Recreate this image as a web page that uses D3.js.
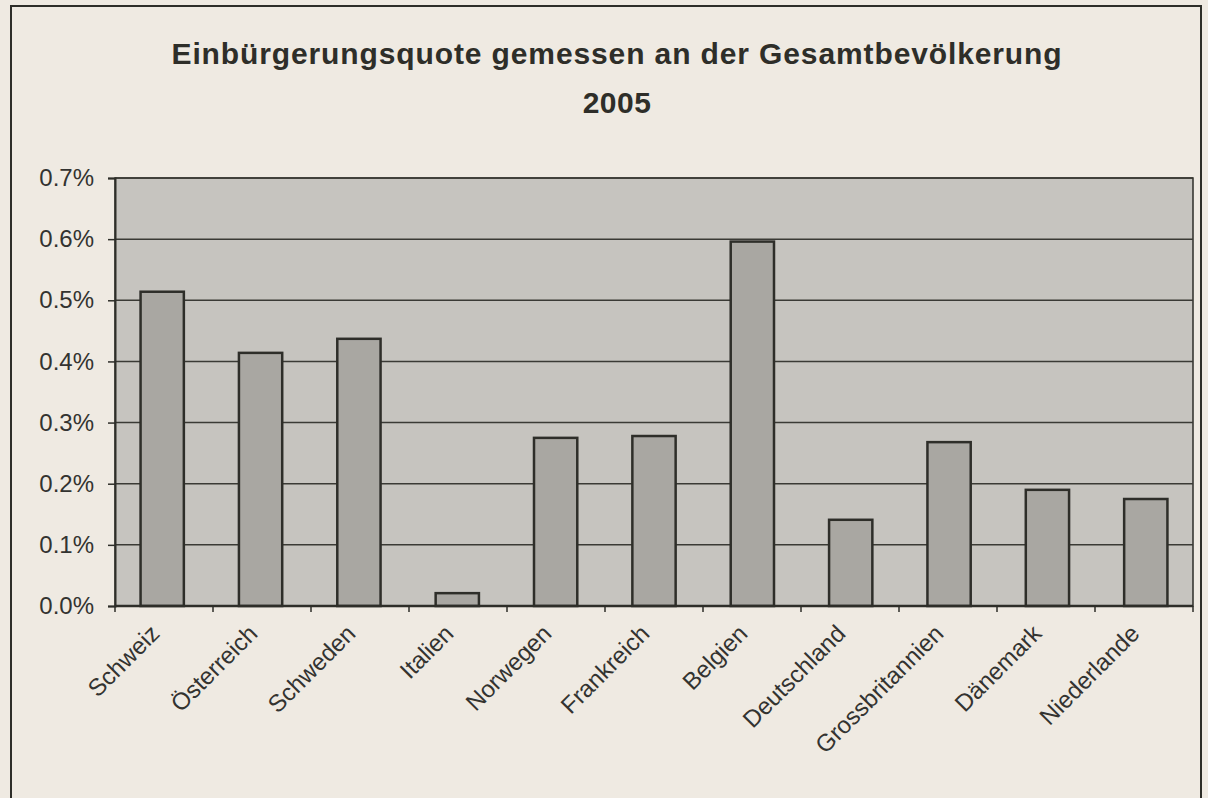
<!DOCTYPE html>
<html>
<head>
<meta charset="utf-8">
<script src="https://cdn.jsdelivr.net/npm/d3@7"></script>
<style>
  html, body { margin: 0; padding: 0; background: #efeae2; }
  svg { display: block; }
</style>
</head>
<body>
<svg id="chart" width="1208" height="798"></svg>
<script>
const categories = ["Schweiz", "Österreich", "Schweden", "Italien", "Norwegen", "Frankreich",
  "Belgien", "Deutschland", "Grossbritannien", "Dänemark", "Niederlande"];
const values = [0.514, 0.414, 0.437, 0.021, 0.275, 0.278, 0.596, 0.141, 0.268, 0.190, 0.175];
const yTicks = [0, 0.1, 0.2, 0.3, 0.4, 0.5, 0.6, 0.7];
const titleLines = ["Einbürgerungsquote gemessen an der Gesamtbevölkerung", "2005"];

const svg = d3.select("#chart");
const W = 1208, H = 798;
const plot = { left: 115, right: 1193, top: 178, bottom: 606 };
const ink = "#2e2e29";
const font = "'Liberation Sans', Arial, sans-serif";

// background
svg.append("rect").attr("width", W).attr("height", H).attr("fill", "#efeae2");
// outer frame
svg.append("rect").attr("x", 11).attr("y", 6).attr("width", 1190).attr("height", 820)
  .attr("fill", "none").attr("stroke", ink).attr("stroke-width", 2);

// title
const titles = svg.append("g").selectAll("text").data(titleLines).join("text")
  .attr("x", 617).attr("y", (d, i) => 64 + i * 49)
  .attr("text-anchor", "middle")
  .attr("font-family", font).attr("font-weight", "bold").attr("font-size", 30)
  .attr("fill", ink)
  .text(d => d);
// stretch first line to the reference's width
titles.filter((d, i) => i === 0).each(function () {
  const w = this.getComputedTextLength();
  const n = this.textContent.length;
  d3.select(this).attr("letter-spacing", ((890 - w) / (n - 1)).toFixed(2));
});
titles.filter((d, i) => i === 1).attr("letter-spacing", 0.5);

const x = d3.scaleBand().domain(categories).range([plot.left, plot.right])
  .paddingInner(0.56).paddingOuter(0.26);
const xb = d3.scaleBand().domain(categories).range([plot.left, plot.right]);
const y = d3.scaleLinear().domain([0, 0.7]).range([plot.bottom, plot.top]);

// plot area
svg.append("rect").attr("x", plot.left).attr("y", plot.top)
  .attr("width", plot.right - plot.left).attr("height", plot.bottom - plot.top)
  .attr("fill", "#c6c4bf").attr("stroke", ink).attr("stroke-width", 1.5);

// gridlines
svg.append("g").selectAll("line").data(yTicks.filter(t => t > 0)).join("line")
  .attr("x1", plot.left).attr("x2", plot.right)
  .attr("y1", d => y(d)).attr("y2", d => y(d))
  .attr("stroke", "#3a3a35").attr("stroke-width", 1.5);

// bars
svg.append("g").selectAll("rect").data(values).join("rect")
  .attr("x", (d, i) => x(categories[i]))
  .attr("width", x.bandwidth())
  .attr("y", d => y(d))
  .attr("height", d => y(0) - y(d))
  .attr("fill", "#a9a7a2").attr("stroke", ink).attr("stroke-width", 2.5);

// y axis
const yAxis = d3.axisLeft(y).tickValues(yTicks).tickSize(7).tickPadding(14)
  .tickFormat(d => d3.format(".1f")(d * 1) + "%");
const gy = svg.append("g").attr("transform", `translate(${plot.left},0)`).call(yAxis);
gy.select(".domain").attr("stroke", ink).attr("stroke-width", 2);
gy.selectAll(".tick line").attr("stroke", ink).attr("stroke-width", 1.5);
gy.selectAll(".tick text").attr("font-family", font).attr("font-size", 24).attr("fill", "#333330");

// x axis baseline and ticks at band boundaries
const boundaries = categories.map(c => xb(c)).concat([plot.right]);
svg.append("line").attr("x1", plot.left).attr("x2", plot.right)
  .attr("y1", plot.bottom).attr("y2", plot.bottom).attr("stroke", ink).attr("stroke-width", 2.5);
svg.append("g").selectAll("line").data(boundaries).join("line")
  .attr("x1", d => d).attr("x2", d => d)
  .attr("y1", plot.bottom).attr("y2", plot.bottom + 6)
  .attr("stroke", ink).attr("stroke-width", 1.5);

// x labels rotated
svg.append("g").selectAll("text").data(categories).join("text")
  .attr("transform", d => `translate(${xb(d) + xb.bandwidth() / 2 - 3},${plot.bottom + 29}) rotate(-45)`)
  .attr("text-anchor", "end")
  .attr("font-family", font).attr("font-size", 24).attr("fill", "#333330")
  .text(d => d);
</script>
</body>
</html>
